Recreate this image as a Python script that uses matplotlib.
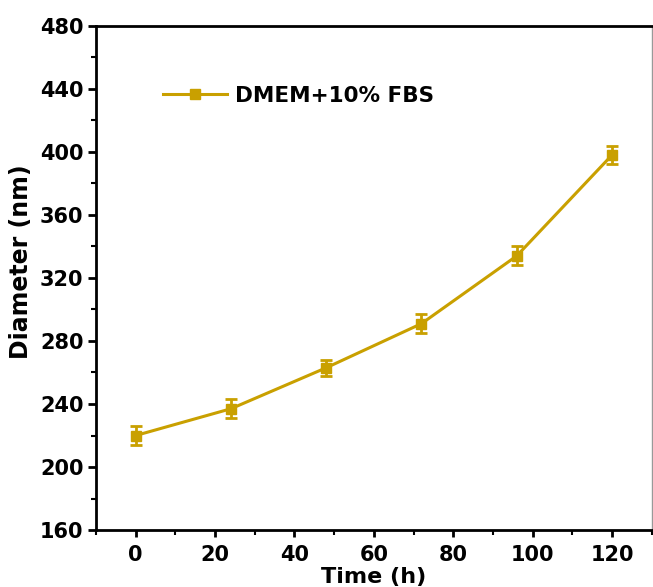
import matplotlib
matplotlib.use("Agg")
import matplotlib.pyplot as plt
from matplotlib.ticker import MultipleLocator

# data
time_h = [0, 24, 48, 72, 96, 120]
diameter_nm = [220, 237, 263, 291, 334, 398]
diameter_err = [6, 6, 5, 6, 6, 6]
series_label = "DMEM+10% FBS"
gold = "#C9A000"

plt.rcParams["font.family"] = ["DejaVu Sans"]
plt.rcParams["font.weight"] = "bold"

fig = plt.figure(figsize=(6.53, 5.87), dpi=100)
ax = fig.add_axes([0.147, 0.097, 0.851, 0.859])

eb = ax.errorbar(time_h, diameter_nm, yerr=diameter_err, color=gold, lw=2.2,
                 marker="s", ms=7, capsize=4, capthick=2, elinewidth=2,
                 label=series_label)

ax.set_xlim(-10, 130)
ax.set_ylim(160, 480)
ax.xaxis.set_major_locator(MultipleLocator(20))
ax.xaxis.set_minor_locator(MultipleLocator(10))
ax.yaxis.set_major_locator(MultipleLocator(40))
ax.yaxis.set_minor_locator(MultipleLocator(20))

ax.tick_params(which="major", direction="out", length=6, width=2, labelsize=15, pad=3)
ax.tick_params(which="minor", direction="out", length=3.5, width=1.5)
ax.tick_params(axis="x", which="major", length=5, pad=6)
for lab in ax.get_xticklabels() + ax.get_yticklabels():
    lab.set_fontweight("bold")

for side in ("left", "bottom", "top"):
    ax.spines[side].set_linewidth(2)
ax.spines["right"].set_linewidth(1)
ax.spines["right"].set_color("#999999")

ax.set_xlabel("Time (h)", fontsize=16, fontweight="bold", labelpad=1)
ax.set_ylabel("Diameter (nm)", fontsize=17, fontweight="bold")
ax.yaxis.set_label_coords(-0.113, 0.532)

ax.legend(handles=[eb[0]], labels=[series_label], loc="upper left",
          bbox_to_anchor=(0.085, 0.92), frameon=False,
          prop={"size": 15.5, "weight": "bold"}, handlelength=3.0,
          handletextpad=0.35)

fig.savefig("out.png", dpi=100)
